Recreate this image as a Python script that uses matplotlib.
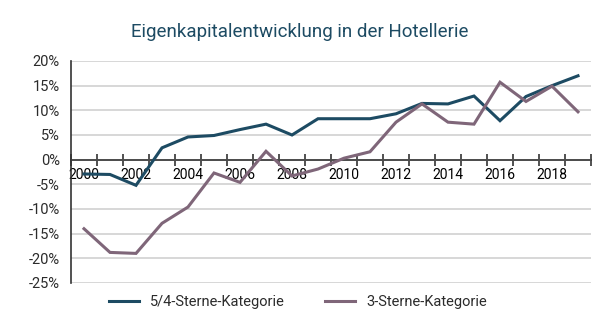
import matplotlib
matplotlib.use("Agg")
import matplotlib.pyplot as plt
from matplotlib.lines import Line2D
import numpy as np

years = list(range(2000, 2020))
series_54 = [-2.9, -3.0, -5.2, 2.4, 4.6, 4.9, 6.1, 7.2, 5.0, 8.3,
             8.3, 8.3, 9.3, 11.4, 11.3, 12.9, 7.9, 12.8, 15.0, 17.0]
series_3 = [-14.0, -18.8, -19.0, -12.9, -9.6, -2.7, -4.6, 1.7, -3.3, -1.9,
            0.3, 1.6, 7.6, 11.3, 7.6, 7.2, 15.7, 11.8, 14.9, 9.7]
yticks = [20, 15, 10, 5, 0, -5, -10, -15, -20, -25]
title = "Eigenkapitalentwicklung in der Hotellerie"
labels = ["5/4-Sterne-Kategorie", "3-Sterne-Kategorie"]

c_blue = "#1d4b63"
c_purple = "#7f6679"
c_text = "#2b2b2b"

plt.rcParams['font.family'] = ['Roboto', 'DejaVu Sans']

fig = plt.figure(figsize=(6.13, 3.30), dpi=100)
ax = fig.add_axes([71/613, 1-283/330, (591-71)/613, (283-61)/330])

x = np.arange(len(years))
ax.plot(x, series_54, color=c_blue, lw=2.2, solid_joinstyle='miter', zorder=3)
ax.plot(x, series_3, color=c_purple, lw=2.2, solid_joinstyle='miter', zorder=3)

ax.set_xlim(-0.5, len(years) - 0.5)
ax.set_ylim(-25, 20)
ax.set_yticks(yticks)
ax.set_yticklabels([f"{v}%" for v in yticks], fontsize=10.5, color=c_text)
ax.tick_params(axis='y', length=0, pad=8)
ax.grid(axis='y', color='#d4d4d4', lw=1.3, zorder=0)

# category boundaries as tick marks, labels on every other category
ax.set_xticks(np.arange(len(years) + 1) - 0.5)
ax.set_xticklabels([])
ax.tick_params(axis='x', which='major', direction='inout', length=9, width=1.2, color='#333333')
ax.set_xticks(x[::2], minor=True)
ax.set_xticklabels([str(years[i]) for i in x[::2]], minor=True, fontsize=10.5, color=c_text)
ax.tick_params(axis='x', which='minor', length=0, pad=6)

for s in ['top', 'right']:
    ax.spines[s].set_visible(False)
ax.spines['bottom'].set_position(('data', 0))
ax.spines['bottom'].set_color('#333333')
ax.spines['bottom'].set_linewidth(1.2)
ax.spines['left'].set_color('#333333')
ax.spines['left'].set_linewidth(1.2)
ax.spines['bottom'].set_zorder(2)

fig.text(300/613, 1-32/330, title, ha='center', va='center', fontsize=13.5, color=c_blue)

handles = [Line2D([0], [0], color=c_blue, lw=2.2), Line2D([0], [0], color=c_purple, lw=2.2)]
fig.legend(handles, labels, loc='center', bbox_to_anchor=(298/613, 1-302/330), ncol=2,
           frameon=False, fontsize=10.5, handlelength=2.05, columnspacing=2.8,
           handletextpad=0.75, labelcolor=c_text)

fig.savefig("out.png", dpi=100)
